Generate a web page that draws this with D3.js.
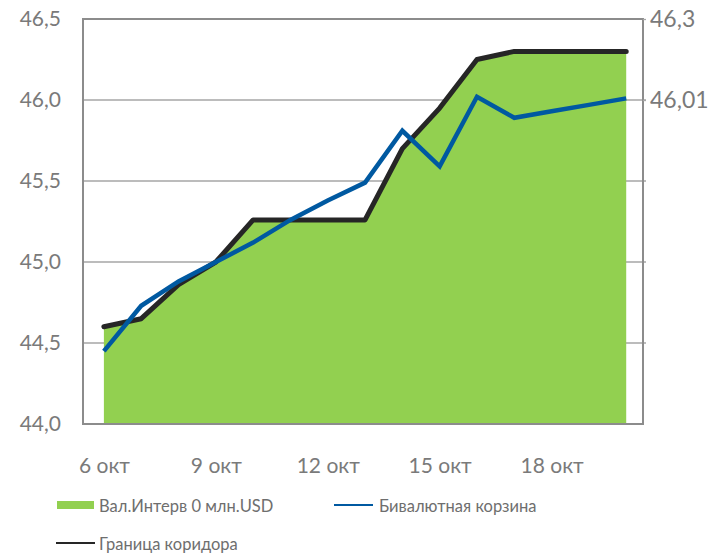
<!DOCTYPE html>
<html><head><meta charset="utf-8">
<script src="https://cdn.jsdelivr.net/npm/d3@7"></script>
<style>body{margin:0;background:#fff}svg{display:block}text{font-family:Lato,"Noto Sans",sans-serif}</style>
</head><body>
<svg id="c" width="710" height="556"></svg>
<script>
const days = [6,7,8,9,10,11,12,13,14,15,16,17,18,19,20];
const xTickDays = [6,9,12,15,18];
const interventionArea = [44.6,44.65,44.86,45.0,45.26,45.26,45.26,45.26,45.7,45.95,46.25,46.3,46.3,46.3,46.3];
const basket = [44.45,44.73,44.88,45.0,45.12,45.26,45.38,45.49,45.81,45.59,46.02,45.89,45.93,45.97,46.01];
const corridor = [44.6,44.65,44.86,45.0,45.26,45.26,45.26,45.26,45.7,45.95,46.25,46.3,46.3,46.3,46.3];
const leftTicks = [44.0,44.5,45.0,45.5,46.0,46.5];
const rightTicks = [46.01,46.3];
const rightTickLabels = ["46,01","46,3"];
const legendLabels = ["Вал.Интерв 0 млн.USD","Бивалютная корзина","Граница коридора"];

const svg = d3.select("#c");
const L=83,R=643,T=19,B=424;
const x = d3.scaleLinear().domain([5.44,20.45]).range([L,R]);
const y = d3.scaleLinear().domain([44.0,46.5]).range([B,T]);
const yR = d3.scaleLinear().domain([44.85,46.3]).range([B,T]);
const fmt = d => d.toFixed(1).replace(".",",");

// gridlines
svg.append("g").selectAll("line").data(leftTicks.filter(v=>v>44&&v<46.5)).join("line")
 .attr("x1",L).attr("x2",R+3).attr("y1",d=>y(d)).attr("y2",d=>y(d))
 .attr("stroke","#a6a6a6").attr("stroke-width",1.3);

// area
svg.append("path").datum(days.map((d,i)=>[d,interventionArea[i]]))
 .attr("d",d3.area().x(d=>x(d[0])).y0(y(44)).y1(d=>y(d[1])))
 .attr("fill","#92d050");

// frame
svg.append("rect").attr("x",L).attr("y",T).attr("width",R-L).attr("height",B-T)
 .attr("fill","none").attr("stroke","#8c8c8c").attr("stroke-width",2);

// left axis
const la = svg.append("g").attr("transform",`translate(${L},0)`)
 .call(d3.axisLeft(y).tickValues(leftTicks).tickFormat(fmt).tickSize(0).tickPadding(22));
la.select(".domain").remove();
la.selectAll("text").attr("font-size",21).attr("fill","#7a7a7a");

// right axis
const ra = svg.append("g").attr("transform",`translate(${R},0)`)
 .call(d3.axisRight(yR).tickValues(rightTicks).tickFormat((d,i)=>rightTickLabels[i]).tickSize(3).tickPadding(4));
ra.select(".domain").remove();
ra.selectAll("line").attr("stroke","#a6a6a6").attr("stroke-width",1.3);
ra.selectAll("text").attr("font-size",23).attr("fill","#7a7a7a");

// bottom axis
const ba = svg.append("g").attr("transform",`translate(0,${B})`)
 .call(d3.axisBottom(x).tickValues(xTickDays).tickFormat(d=>d+" окт").tickSize(0).tickPadding(34));
ba.select(".domain").remove();
ba.selectAll("text").attr("font-size",21).attr("fill","#7a7a7a");

// lines
const line = d3.line().x(d=>x(d[0])).y(d=>y(d[1]));
svg.append("path").datum(days.map((d,i)=>[d,corridor[i]])).attr("d",line)
 .attr("fill","none").attr("stroke","#262626").attr("stroke-width",5).attr("stroke-linecap","round").attr("stroke-linejoin","round");
svg.append("path").datum(days.map((d,i)=>[d,basket[i]])).attr("d",line)
 .attr("fill","none").attr("stroke","#0059a1").attr("stroke-width",4.5).attr("stroke-linejoin","miter");

// legend
const lg = svg.append("g");
lg.append("rect").attr("x",57).attr("y",501).attr("width",37).attr("height",8).attr("fill","#92d050");
lg.append("text").attr("x",99).attr("y",506).attr("dy","0.35em").text(legendLabels[0]);
lg.append("line").attr("x1",334).attr("x2",373).attr("y1",505).attr("y2",505).attr("stroke","#0059a1").attr("stroke-width",2);
lg.append("text").attr("x",379).attr("y",506).attr("dy","0.35em").text(legendLabels[1]);
lg.append("line").attr("x1",56).attr("x2",95).attr("y1",543).attr("y2",543).attr("stroke","#262626").attr("stroke-width",2);
lg.append("text").attr("x",99).attr("y",544).attr("dy","0.35em").text(legendLabels[2]);
lg.selectAll("text").attr("font-size",16.5).attr("fill","#6e6e6e");
</script>
</body></html>
